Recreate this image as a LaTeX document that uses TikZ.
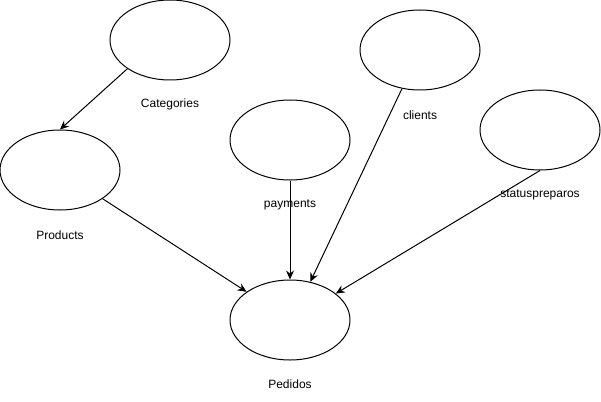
\documentclass[tikz,border=0pt]{standalone}
\usepackage{fontspec}
\setmainfont{Liberation Sans}
\usetikzlibrary{arrows.meta,shapes.geometric}
\begin{document}
\begin{tikzpicture}[x=1pt,y=-1pt,
  ent/.style={draw=black,line width=1pt,ellipse,minimum width=120pt,minimum height=80pt,inner sep=0pt},
  lbl/.style={font=\fontsize{12}{14}\selectfont,inner sep=0pt},
  conn/.style={draw=black,line width=1pt,-{Stealth[length=9pt,width=8pt,inset=3pt]}}]
\useasboundingbox (0,0) rectangle (601,401);
\node[ent] (cat) at (170,40) {};
\node[ent] (prod) at (60,170) {};
\node[ent] (pay) at (290,140) {};
\node[ent] (cli) at (420,50) {};
\node[ent] (stat) at (540,130) {};
\node[ent] (ped) at (290,320) {};
\node[lbl] (catl) at (170,104) {Categories};
\node[lbl] (prodl) at (60,235) {Products};
\node[lbl] (payl) at (290,205) {payments};
\node[lbl] (clil) at (420,115) {clients};
\node[lbl] (statl) at (540,195) {statuspreparos};
\node[lbl] (pedl) at (290,384) {Pedidos};
\draw[conn] (cat.214) -- (prod.north);
\draw[conn] (prod.-34) -- (ped.147);
\draw[conn] (pay.south) -- (ped.north);
\draw[conn] (cli.-115) -- (ped.62);
\draw[conn] (stat.south) -- (ped.30);
\end{tikzpicture}
\end{document}
